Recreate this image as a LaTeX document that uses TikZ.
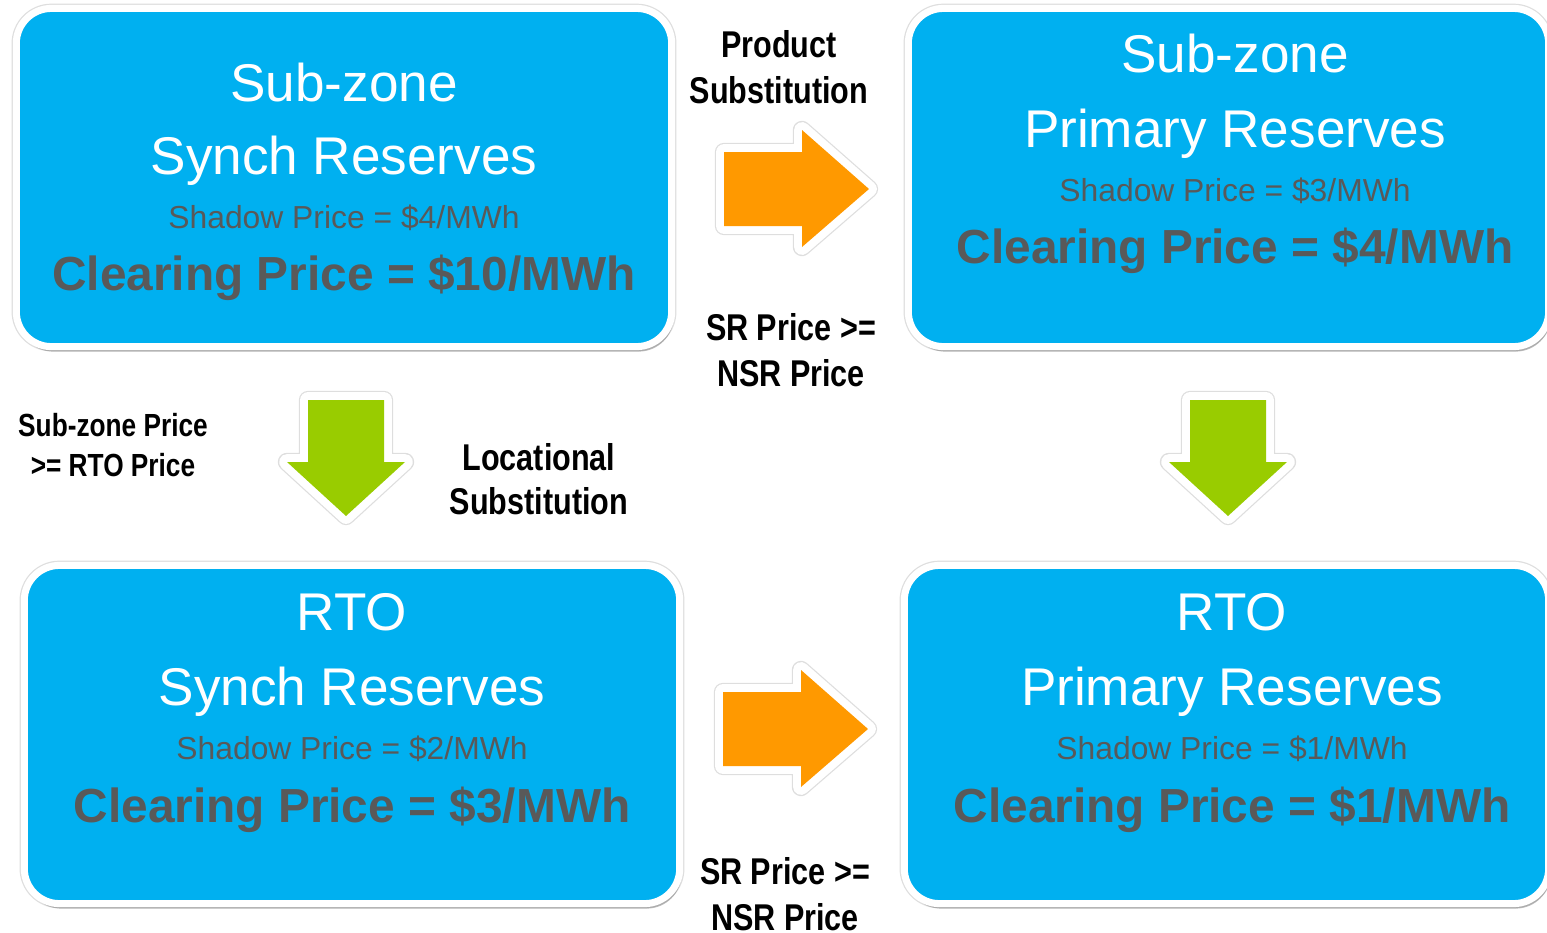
\documentclass[tikz,border=0pt]{standalone}
\usepackage{fontspec}
\setmainfont{Liberation Sans}
\newfontfamily\narrowfont[FakeStretch=0.82]{Liberation Sans}
\usetikzlibrary{shadows}

\definecolor{panelblue}{RGB}{0,176,240}
\definecolor{pricegray}{RGB}{89,89,89}
\definecolor{swaporange}{RGB}{255,153,0}
\definecolor{movegreen}{RGB}{153,204,0}

\begin{document}
\begin{tikzpicture}[x=0.01cm,y=-0.01cm,
    panel/.style={rectangle,rounded corners=0.35cm,fill=panelblue,draw=white,line width=2pt,inner sep=0pt,
        minimum height=3.38cm,preaction={draw=black!13,line width=2.7pt},
        drop shadow={shadow xshift=0.02cm,shadow yshift=-0.05cm,opacity=0.35,fill=black!70}},
    title/.style={anchor=base,inner sep=0pt,white,font=\fontsize{15.1}{18}\selectfont},
    shadowtxt/.style={anchor=base,inner sep=0pt,pricegray,font=\fontsize{9.05}{11}\selectfont},
    cleartxt/.style={anchor=base,inner sep=0pt,pricegray,font=\fontsize{13.6}{16}\selectfont\bfseries},
    note/.style={anchor=base,inner sep=0pt,align=center,font=\narrowfont\fontsize{10.6}{12.8}\selectfont\bfseries},
    rim/.style={draw=white,fill=white,line width=4.5pt,line join=round,preaction={draw=black!13,line width=5.2pt,line join=round},
        drop shadow={shadow xshift=0.02cm,shadow yshift=-0.04cm,opacity=0.3,fill=black!70}},
    rightblock/.pic={
        \path[rim] (0,-37) -- (78,-37) -- (78,-59) -- (145,0) -- (78,58) -- (78,37) -- (0,37) -- cycle;
        \fill[swaporange] (0,-37) -- (78,-37) -- (78,-59) -- (145,0) -- (78,58) -- (78,37) -- (0,37) -- cycle;
    },
    downblock/.pic={
        \path[rim] (-38,0) -- (38,0) -- (38,62) -- (59,62) -- (0,116) -- (-59,62) -- (-38,62) -- cycle;
        \fill[movegreen] (-38,0) -- (38,0) -- (38,62) -- (59,62) -- (0,116) -- (-59,62) -- (-38,62) -- cycle;
    },
]
\useasboundingbox (0,0) rectangle (1547,933);

% four reserve panels
\node[panel,minimum width=6.55cm] (szsr) at (344,177.5) {};
\node[panel,minimum width=6.40cm] (szpr) at (1228.5,177.5) {};
\node[panel,minimum width=6.55cm] (rtosr) at (352,734.5) {};
\node[panel,minimum width=6.44cm] (rtopr) at (1226.5,734.5) {};

\node[title] (szsr1) at (344,101) {Sub-zone};
\node[title] (szsr2) at (344,174) {Synch Reserves};
\node[shadowtxt] (szsr3) at (344,228) {Shadow Price = \$4/MWh};
\node[cleartxt] (szsr4) at (344,290) {Clearing Price = \$10/MWh};

\node[title] (szpr1) at (1235,72) {Sub-zone};
\node[title] (szpr2) at (1235,147) {Primary Reserves};
\node[shadowtxt] (szpr3) at (1235,201) {Shadow Price = \$3/MWh};
\node[cleartxt] (szpr4) at (1235,263) {Clearing Price = \$4/MWh};

\node[title] (rtosr1) at (352,630) {RTO};
\node[title] (rtosr2) at (352,705) {Synch Reserves};
\node[shadowtxt] (rtosr3) at (352,759) {Shadow Price = \$2/MWh};
\node[cleartxt] (rtosr4) at (352,822) {Clearing Price = \$3/MWh};

\node[title] (rtopr1) at (1232,630) {RTO};
\node[title] (rtopr2) at (1232,705) {Primary Reserves};
\node[shadowtxt] (rtopr3) at (1232,759) {Shadow Price = \$1/MWh};
\node[cleartxt] (rtopr4) at (1232,822) {Clearing Price = \$1/MWh};

% substitution arrows
\pic at (724,189) {rightblock};
\pic at (723,729) {rightblock};
\pic at (346,400) {downblock};
\pic at (1228,400) {downblock};

% notes (base = last line)
\node[note] (prodsub) at (779,103) {Product\\Substitution};
\node[note] (srtop) at (791,386) {SR Price >=\\NSR Price};
\node[note,font=\narrowfont\fontsize{9.1}{11.1}\selectfont\bfseries] (subprice) at (113,476) {Sub-zone Price\\>= RTO Price};
\node[note,font=\narrowfont\fontsize{10.6}{12.5}\selectfont\bfseries] (locsub) at (539,514) {Locational\\Substitution};
\node[note] (srbot) at (785,930) {SR Price >=\\NSR Price};
\end{tikzpicture}
\end{document}
